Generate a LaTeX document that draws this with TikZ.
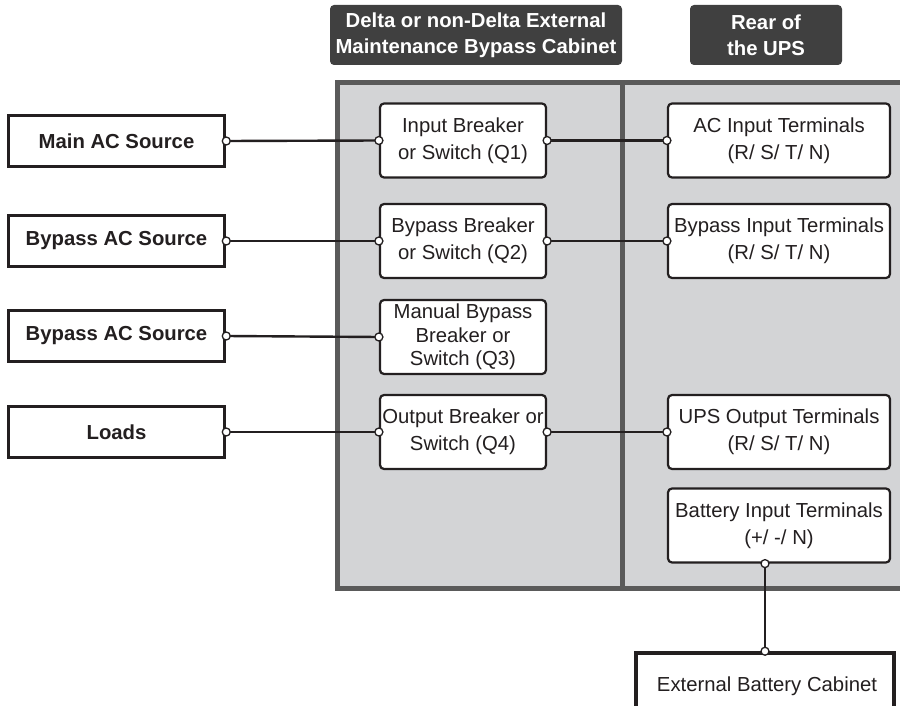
\documentclass[tikz,border=0pt]{standalone}
\usepackage{fontspec}
\setmainfont{Liberation Sans}
\usepackage{tikz}

\definecolor{hdr}{HTML}{404040}
\definecolor{panel}{HTML}{D3D4D6}
\definecolor{frame}{HTML}{5A5A5A}
\definecolor{ink}{HTML}{231F20}

\begin{document}
\begin{tikzpicture}[x=1pt,y=1pt,
  font=\fontsize{20.3}{27}\selectfont,
  hdrbox/.style={fill=hdr,rounded corners=4pt,text=white,font=\fontsize{20.3}{26}\selectfont\bfseries,align=center,inner sep=0pt},
  srcbox/.style={draw=ink,line width=3.5pt,fill=white,minimum width=216pt,minimum height=51pt,text=ink,font=\fontsize{20.3}{27}\selectfont\bfseries,inner sep=0pt},
  brkbox/.style={draw=ink,line width=2.2pt,rounded corners=4pt,fill=white,minimum width=166pt,minimum height=74pt,text=ink,align=center,inner sep=0pt},
  termbox/.style={brkbox,minimum width=222pt},
  wire/.style={draw=ink,line width=2.4pt},
  dot/.style={circle,draw=ink,fill=white,line width=1.3pt,inner sep=0pt,minimum size=8pt}]
  \clip (0,0) rectangle (900,-706);
  \fill[white] (0,0) rectangle (900,-706);
  % headers
  \node[hdrbox,minimum width=292pt,minimum height=60pt] (hcab) at (476,-35) {Delta or non-Delta External\\Maintenance Bypass Cabinet};
  \node[hdrbox,minimum width=152pt,minimum height=60pt] (hups) at (766,-35) {Rear of\\the UPS};
  % cabinet panel
  \draw[frame,fill=panel,line width=5pt] (337,-82.5) rectangle (910,-588);
  \draw[frame,line width=5pt] (622,-82.5) -- (622,-588);
  % sources
  \node[srcbox] (main) at (116.5,-141) {Main AC Source};
  \node[srcbox] (byp1) at (116.5,-241) {Bypass AC Source};
  \node[srcbox] (byp2) at (116.5,-336) {Bypass AC Source};
  \node[srcbox] (load) at (116.5,-432) {Loads};
  % breakers
  \node[brkbox] (q1) at (463,-140.5) {Input Breaker\\or Switch (Q1)};
  \node[brkbox] (q2) at (463,-241) {Bypass Breaker\\or Switch (Q2)};
  \node[brkbox,font=\fontsize{20.3}{23.5}\selectfont] (q3) at (463,-337) {Manual Bypass\\Breaker or\\Switch (Q3)};
  \node[brkbox] (q4) at (463,-432) {Output Breaker or\\Switch (Q4)};
  % terminals
  \node[termbox] (acin) at (779,-140.5) {AC Input Terminals\\(R/ S/ T/ N)};
  \node[termbox] (bpin) at (779,-241) {Bypass Input Terminals\\(R/ S/ T/ N)};
  \node[termbox] (upsout) at (779,-432) {UPS Output Terminals\\(R/ S/ T/ N)};
  \node[termbox] (batin) at (779,-525.5) {Battery Input Terminals\\(+/ -/ N)};
  \node[srcbox,minimum width=258pt,minimum height=90pt] (ebc) at (765,-698) {};
  \node[text=ink] (ebct) at (767,-686) {External Battery Cabinet};
  % wiring
  \coordinate (bt) at (ebc.north |- batin.south);
  \foreach \a/\b in {main/q1,q1/acin,byp1/q2,q2/bpin,byp2/q3,load/q4,q4/upsout}{
    \draw[wire] (\a.east) -- (\b.west);
    \node[dot] at (\a.east) {}; \node[dot] at (\b.west) {};
  }
  \draw[wire] (bt) -- (ebc.north);
  \node[dot] at (bt) {}; \node[dot] at (ebc.north) {};
\end{tikzpicture}
\end{document}
